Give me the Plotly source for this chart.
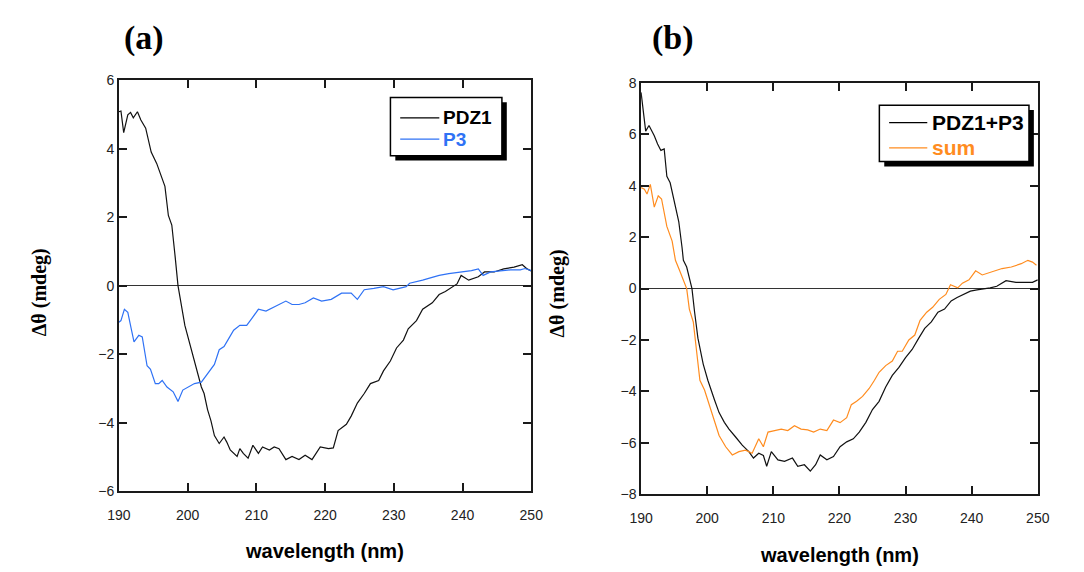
import plotly.graph_objects as go

W, H = 1084, 572

# ---------------- data ----------------
pdz1_wl = [190.0, 190.3, 190.7, 191.3, 191.7, 192.1, 192.7, 193.2, 193.9, 194.7, 195.5, 196.3, 196.7,
           197.2, 197.7, 198.2, 198.6, 199.6, 200.5, 201.2, 202.0, 202.4, 202.9, 203.4, 203.9, 204.6,
           205.3, 205.7, 206.2, 207.2, 207.6, 208.1, 208.8, 209.5, 210.3, 210.9, 211.9, 212.6, 213.3,
           214.3, 215.2, 216.2, 217.1, 218.1, 219.3, 220.5, 221.2, 221.9, 223.1, 223.8, 224.7, 225.7,
           226.6, 227.8, 228.5, 229.5, 230.4, 231.4, 232.1, 233.3, 234.2, 235.6, 236.6, 237.5, 238.7,
           239.2, 239.8, 240.9, 242.3, 243.2, 244.6, 246.0, 247.5, 248.7, 249.4, 250.0]
pdz1_val = [5.08, 5.10, 4.47, 4.99, 5.06, 4.90, 5.08, 4.84, 4.60, 3.90, 3.57, 3.09, 2.90,
            2.05, 1.77, 0.82, 0.00, -1.16, -1.82, -2.39, -2.96, -3.15, -3.62, -3.95, -4.38, -4.61,
            -4.42, -4.57, -4.80, -4.99, -4.76, -4.90, -5.04, -4.66, -4.90, -4.71, -4.80, -4.71, -4.76,
            -5.08, -4.99, -5.08, -4.95, -5.08, -4.71, -4.76, -4.74, -4.23, -4.05, -3.81, -3.43, -3.15,
            -2.86, -2.77, -2.49, -2.20, -1.82, -1.59, -1.26, -1.02, -0.69, -0.50, -0.26, -0.17, 0.00,
            0.05, 0.30, 0.16, 0.26, 0.40, 0.40, 0.49, 0.54, 0.61, 0.49, 0.43]

p3_wl = [190.0, 190.3, 190.8, 191.3, 191.8, 192.2, 192.9, 193.4, 194.1, 194.6, 195.3, 195.8, 196.3,
         197.0, 197.9, 198.6, 199.3, 200.1, 201.0, 202.0, 202.9, 203.9, 204.6, 205.3, 206.0, 206.7,
         207.6, 208.6, 209.3, 210.3, 211.4, 212.9, 214.3, 215.2, 216.2, 217.1, 218.3, 219.5, 220.9,
         222.4, 223.8, 224.7, 225.7, 227.1, 228.5, 229.9, 230.9, 231.8, 232.3, 233.3, 234.2, 235.2,
         236.6, 238.0, 239.8, 241.3, 242.3, 243.0, 244.1, 245.6, 247.0, 248.4, 249.1, 250.0]
p3_val = [-1.07, -1.02, -0.69, -0.78, -1.26, -1.64, -1.45, -1.50, -2.34, -2.44, -2.86, -2.86, -2.77,
          -2.96, -3.10, -3.38, -3.05, -2.96, -2.86, -2.82, -2.58, -2.30, -1.87, -1.78, -1.54, -1.30,
          -1.16, -1.16, -0.97, -0.69, -0.74, -0.60, -0.45, -0.55, -0.55, -0.50, -0.36, -0.45, -0.40,
          -0.22, -0.22, -0.40, -0.12, -0.08, -0.03, -0.12, -0.08, -0.03, 0.07, 0.11, 0.16, 0.22,
          0.30, 0.35, 0.40, 0.44, 0.49, 0.30, 0.40, 0.44, 0.46, 0.46, 0.50, 0.44]

mix_wl = [190.0, 190.4, 190.7, 191.2, 192.0, 192.5, 193.0, 193.5, 193.9, 194.4, 194.9, 195.7, 196.2,
          196.4, 196.9, 197.4, 197.7, 198.1, 198.6, 199.4, 200.1, 201.1, 201.8, 202.6, 203.3, 204.3,
          205.3, 206.3, 207.0, 207.8, 208.5, 209.0, 209.7, 210.7, 211.7, 212.9, 213.7, 214.7, 215.6,
          216.4, 217.1, 218.1, 219.1, 220.1, 221.1, 222.1, 223.0, 224.0, 225.0, 226.0, 227.0, 228.0,
          229.0, 230.0, 231.0, 232.0, 232.9, 233.9, 234.9, 235.9, 236.9, 237.8, 238.8, 239.8, 240.8,
          241.8, 242.8, 243.8, 245.2, 246.7, 248.2, 249.2, 250.0]
mix_val = [7.64, 6.89, 6.13, 6.35, 5.95, 5.63, 5.38, 5.44, 4.37, 4.12, 3.49, 2.61, 1.60,
           1.10, 0.84, 0.34, 0.00, -0.92, -1.93, -2.94, -3.57, -4.33, -4.83, -5.21, -5.47, -5.78,
           -6.10, -6.35, -6.60, -6.41, -6.50, -6.92, -6.35, -6.67, -6.73, -6.60, -6.92, -6.86, -7.11,
           -6.86, -6.48, -6.67, -6.54, -6.16, -5.97, -5.85, -5.59, -5.21, -4.71, -4.39, -3.83, -3.38,
           -3.07, -2.69, -2.37, -1.93, -1.55, -1.30, -0.92, -0.80, -0.48, -0.35, -0.23, -0.10, -0.05,
           -0.02, 0.03, 0.09, 0.31, 0.24, 0.24, 0.24, 0.34]

sum_wl = [190.0, 190.5, 190.9, 191.4, 192.0, 192.6, 193.1, 193.5, 193.9, 194.7, 195.2, 195.8, 196.4,
          196.9, 197.3, 197.9, 198.4, 198.9, 199.6, 200.4, 201.1, 201.8, 202.8, 203.8, 204.8, 205.8,
          206.8, 207.8, 208.5, 209.2, 210.2, 211.2, 212.2, 213.2, 214.2, 215.2, 216.1, 217.1, 218.1,
          219.1, 220.1, 221.1, 221.8, 222.6, 223.5, 224.5, 225.3, 226.0, 227.0, 228.0, 228.8, 229.5,
          230.5, 231.4, 232.2, 233.2, 234.1, 235.1, 236.1, 236.8, 237.9, 238.6, 239.6, 240.6, 241.6,
          243.1, 244.6, 246.0, 247.5, 248.5, 249.2, 249.8]
sum_val = [3.93, 3.87, 3.68, 4.06, 3.17, 3.61, 3.49, 2.98, 2.42, 1.85, 1.10, 0.72, 0.34,
           0.00, -0.80, -1.30, -2.44, -3.57, -3.95, -4.58, -5.09, -5.72, -6.16, -6.48, -6.35, -6.29,
           -6.41, -5.85, -6.16, -5.59, -5.53, -5.47, -5.53, -5.34, -5.47, -5.50, -5.59, -5.47, -5.53,
           -5.12, -5.22, -5.03, -4.52, -4.39, -4.20, -3.89, -3.57, -3.26, -3.00, -2.82, -2.44, -2.44,
           -2.00, -1.81, -1.24, -0.92, -0.73, -0.42, -0.23, 0.15, 0.03, 0.21, 0.34, 0.69, 0.53,
           0.65, 0.78, 0.84, 0.97, 1.10, 1.03, 0.91]

x_ticks = [190, 200, 210, 220, 230, 240, 250]
ya_ticks = [-6, -4, -2, 0, 2, 4, 6]
yb_ticks = [-8, -6, -4, -2, 0, 2, 4, 6, 8]

legend_a = ["PDZ1", "P3"]
legend_b = ["PDZ1+P3", "sum"]

BLACK = "#111111"
BLUE = "#2f72f5"
ORANGE = "#ff8c1f"
AXIS = "#1a1a1a"


def px(x):
    return x / W


def py(y):
    return 1 - y / H


fig = go.Figure()
fig.add_trace(go.Scatter(x=pdz1_wl, y=pdz1_val, mode="lines", name=legend_a[0],
                         line=dict(color=BLACK, width=1.2), xaxis="x", yaxis="y"))
fig.add_trace(go.Scatter(x=p3_wl, y=p3_val, mode="lines", name=legend_a[1],
                         line=dict(color=BLUE, width=1.2), xaxis="x", yaxis="y"))
fig.add_trace(go.Scatter(x=mix_wl, y=mix_val, mode="lines", name=legend_b[0],
                         line=dict(color=BLACK, width=1.2), xaxis="x2", yaxis="y2"))
fig.add_trace(go.Scatter(x=sum_wl, y=sum_val, mode="lines", name=legend_b[1],
                         line=dict(color=ORANGE, width=1.2), xaxis="x2", yaxis="y2"))

tickfont = dict(family="Arial, Liberation Sans, sans-serif", size=14, color="#222222")
common_x = dict(range=[190, 250], tickvals=x_ticks, ticks="inside", ticklen=8,
                tickwidth=1.5, tickcolor=AXIS, showline=True, linecolor=AXIS,
                linewidth=1.5, mirror="ticks", showgrid=False, zeroline=False, tickfont=tickfont,
                ticklabelstandoff=10)
common_y = dict(ticks="inside", ticklen=8, tickwidth=1.5, tickcolor=AXIS,
                showline=True, linecolor=AXIS, linewidth=1.5, mirror="ticks", showgrid=False,
                zeroline=True, zerolinecolor="#333333", zerolinewidth=1.2, tickfont=tickfont)

# panel pixel boxes
A = dict(l=109.3, r=531.0, t=74.3, b=497.0)
B = dict(l=643.3, r=1049.0, t=77.3, b=500.0)

fig.update_layout(
    width=W, height=H, margin=dict(l=0, r=0, t=0, b=0),
    paper_bgcolor="white", plot_bgcolor="white",
    xaxis=dict(common_x, domain=[px(A["l"]), px(A["r"])]),
    yaxis=dict(common_y, domain=[py(A["b"]), py(A["t"])], range=[-6, 6], tickvals=ya_ticks),
    xaxis2=dict(common_x, domain=[px(B["l"]), px(B["r"])], anchor="y2"),
    yaxis2=dict(common_y, domain=[py(B["b"]), py(B["t"])], range=[-8, 8], tickvals=yb_ticks,
                anchor="x2"),
    showlegend=False,
)

# ---- legends drawn as framed boxes with drop shadow ----
shapes = []
ann = []


def legend_box(l, t, r, b, rows, size):
    shapes.append(dict(type="rect", xref="paper", yref="paper", x0=px(l + 5), x1=px(r + 5),
                       y0=py(b + 5), y1=py(t + 5), fillcolor="black", line=dict(width=0),
                       layer="above"))
    shapes.append(dict(type="rect", xref="paper", yref="paper", x0=px(l), x1=px(r),
                       y0=py(b), y1=py(t), fillcolor="white",
                       line=dict(color="black", width=1.5), layer="above"))
    for (label, color, yy, lx0, lx1, tx) in rows:
        shapes.append(dict(type="line", xref="paper", yref="paper", x0=px(lx0), x1=px(lx1),
                           y0=py(yy), y1=py(yy), line=dict(color=color, width=1.3),
                           layer="above"))
        ann.append(dict(text=label, x=px(tx), y=py(yy), xanchor="left", yanchor="middle",
                        font=dict(family="Arial, Liberation Sans, sans-serif", size=size,
                                  color=color, weight="bold")))


legend_box(387, 92, 501, 152,
           [(legend_a[0], "black", 113, 397, 437, 439),
            (legend_a[1], BLUE, 135, 397, 437, 439)], 19)
legend_box(887, 100, 1040, 158,
           [(legend_b[0], "black", 118, 897, 936, 939),
            (legend_b[1], ORANGE, 144, 897, 936, 939)], 21)

xt_font = dict(family="Arial, Liberation Sans, sans-serif", size=20, color="black", weight="bold")
yt_font = dict(family="Liberation Serif, Times New Roman, serif", size=20, color="black", weight="bold")
pl_font = dict(family="Liberation Serif, Times New Roman, serif", size=34, color="black", weight="bold")
for d in [
    dict(text="wavelength (nm)", x=px(320), y=py(559), font=xt_font),
    dict(text="wavelength (nm)", x=px(846), y=py(563), font=xt_font),
    dict(text="Δθ (mdeg)", x=px(28), y=py(292), font=yt_font, textangle=-90),
    dict(text="Δθ (mdeg)", x=px(558), y=py(294), font=yt_font, textangle=-90),
    dict(text="(a)", x=px(135), y=py(31), font=pl_font),
    dict(text="(b)", x=px(676), y=py(31), font=pl_font),
]:
    d.update(xanchor="center", yanchor="middle")
    ann.append(d)

for a in ann:
    a.update(xref="paper", yref="paper", showarrow=False)

fig.update_layout(shapes=shapes, annotations=ann)

fig.write_html("out.html")
